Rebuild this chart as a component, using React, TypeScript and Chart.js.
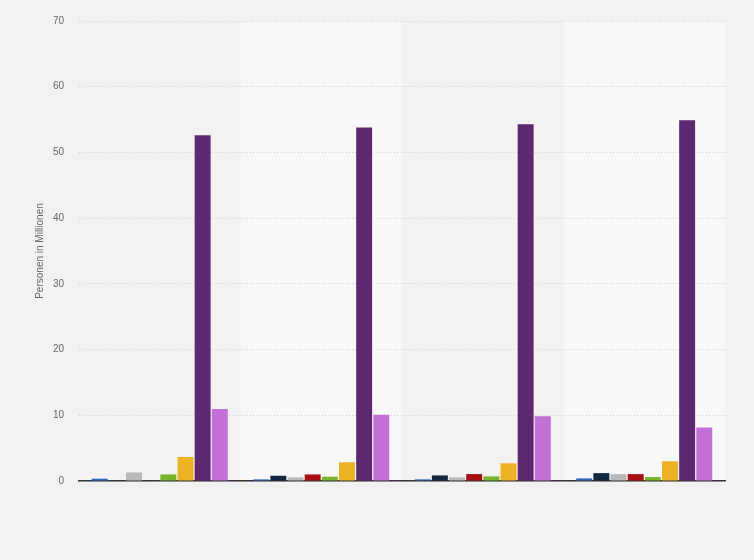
import React, { useEffect, useRef } from "react";
import { Chart, registerables } from "chart.js";

Chart.register(...registerables);

const categories = ["Gruppe 1", "Gruppe 2", "Gruppe 3", "Gruppe 4"];
const seriesNames = ["Serie 1", "Serie 2", "Serie 3", "Serie 4", "Serie 5", "Serie 6", "Serie 7", "Serie 8"];
const seriesColors = ["#2c6bbd", "#11273f", "#b9b9b9", "#a80f12", "#7ab42c", "#ebb323", "#5d2870", "#c26fd7"];
const serie1 = [0.35, 0.25, 0.25, 0.4];
const serie2 = [null, 0.8, 0.85, 1.2];
const serie3 = [1.3, 0.55, 0.55, 1.05];
const serie4 = [null, 1.0, 1.05, 1.05];
const serie5 = [1.0, 0.65, 0.7, 0.6];
const serie6 = [3.65, 2.85, 2.7, 3.0];
const serie7 = [52.6, 53.8, 54.3, 54.9];
const serie8 = [10.95, 10.1, 9.85, 8.15];
const yTicks = [0, 10, 20, 30, 40, 50, 60, 70];
const yTitle = "Personen in Millionen";

const allSeries = [serie1, serie2, serie3, serie4, serie5, serie6, serie7, serie8];

const bandPlugin = {
  id: "bands",
  beforeDraw(chart: any) {
    const { ctx, chartArea, scales } = chart;
    const x = scales.x;
    const n = categories.length;
    const w = (chartArea.right - chartArea.left) / n;
    ctx.save();
    for (let i = 0; i < n; i++) {
      ctx.fillStyle = i % 2 === 1 ? "#f8f8f8" : "#f2f2f2";
      const cx = x.getPixelForValue(i);
      ctx.fillRect(cx - w / 2, chartArea.top, w, chartArea.bottom - chartArea.top);
    }
    ctx.restore();
  },
};

export default function App() {
  const ref = useRef<HTMLCanvasElement>(null);
  useEffect(() => {
    if (!ref.current) return;
    const chart = new Chart(ref.current, {
      type: "bar",
      data: {
        labels: categories,
        datasets: allSeries.map((d, i) => ({
          label: seriesNames[i],
          data: d as any,
          backgroundColor: seriesColors[i],
          borderWidth: 0,
          barPercentage: 0.93,
          categoryPercentage: 0.85,
        })),
      },
      options: {
        animation: false,
        responsive: false,
        maintainAspectRatio: false,
        layout: { padding: { top: 20, right: 29, bottom: 79, left: 0 } },
        plugins: {
          legend: { display: false },
          tooltip: { enabled: false },
        },
        scales: {
          x: {
            type: "category",
            ticks: { display: false },
            grid: { display: false, drawTicks: false },
            border: { display: true, color: "#333333", width: 1.5 },
          },
          y: {
            min: 0,
            max: 70,
            afterFit: (s: any) => { s.width = 79; },
            afterBuildTicks: (s: any) => { s.ticks = yTicks.map((v) => ({ value: v })); },
            ticks: {
              padding: 15,
              color: "#666666",
              font: { family: "'Liberation Sans', Arial, sans-serif", size: 10 },
            },
            grid: { color: "#cfcfcf", drawTicks: false, lineWidth: 1 },
            border: { display: false, dash: [1, 2] },
            title: {
              display: true,
              text: yTitle,
              color: "#666666",
              font: { family: "'Liberation Sans', Arial, sans-serif", size: 10 },
              padding: { top: 34, bottom: 0 },
            },
          },
        },
      },
      plugins: [bandPlugin],
    });
    return () => chart.destroy();
  }, []);
  return (
    <div style={{ position: "fixed", left: 0, top: 0, width: 754, height: 560, background: "#f2f2f2" }}>
      <canvas ref={ref} width={754} height={560} style={{ width: 754, height: 560, display: "block" }} />
    </div>
  );
}
